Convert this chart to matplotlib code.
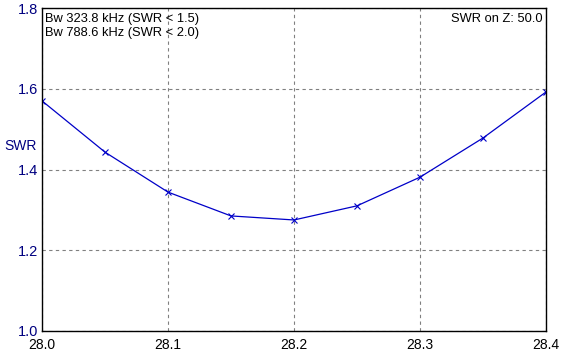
import matplotlib
matplotlib.use("Agg")
import matplotlib.pyplot as plt

plt.rcParams['font.family'] = ['Liberation Sans', 'DejaVu Sans']

freq = [28.0, 28.05, 28.1, 28.15, 28.2, 28.25, 28.3, 28.35, 28.4]
swr = [1.570, 1.443, 1.344, 1.285, 1.275, 1.310, 1.381, 1.478, 1.592]

xticks = [28.0, 28.1, 28.2, 28.3, 28.4]
yticks = [1.0, 1.2, 1.4, 1.6, 1.8]

W, H = 563, 359
fig = plt.figure(figsize=(W / 100, H / 100), dpi=100)
ax = fig.add_axes([42 / W, (H - 331) / H, (546 - 42) / W, (331 - 8) / H])

ax.plot(freq, swr, color='#0000c8', linewidth=0.9, marker='x', markersize=5,
        markeredgewidth=0.8, clip_on=True)

ax.set_xlim(28.0, 28.4)
ax.set_ylim(1.0, 1.8)
ax.set_xticks(xticks)
ax.set_xticklabels(['%.1f' % v for v in xticks], fontsize=10)
ax.set_yticks(yticks)
ax.set_yticklabels(['%.1f' % v for v in yticks], fontsize=10.5, color='#000080')
ax.tick_params(length=0, pad=3)
ax.tick_params(axis='x', pad=5)
ax.grid(True, color='#808080', linestyle=(0, (3, 3)), linewidth=0.8)
for s in ax.spines.values():
    s.set_linewidth(1.0)
    s.set_color('black')

fig.text(4 / W, 1 - 146 / H, 'SWR', ha='left', va='center', fontsize=10,
         color='#000080')

ax.text(0.005, 0.985, 'Bw 323.8 kHz (SWR < 1.5)\nBw 788.6 kHz (SWR < 2.0)',
        transform=ax.transAxes, ha='left', va='top', fontsize=9.3,
        linespacing=1.25)
ax.text(0.993, 0.985, 'SWR on Z: 50.0', transform=ax.transAxes,
        ha='right', va='top', fontsize=9.3)

fig.savefig('out.png', dpi=100)
